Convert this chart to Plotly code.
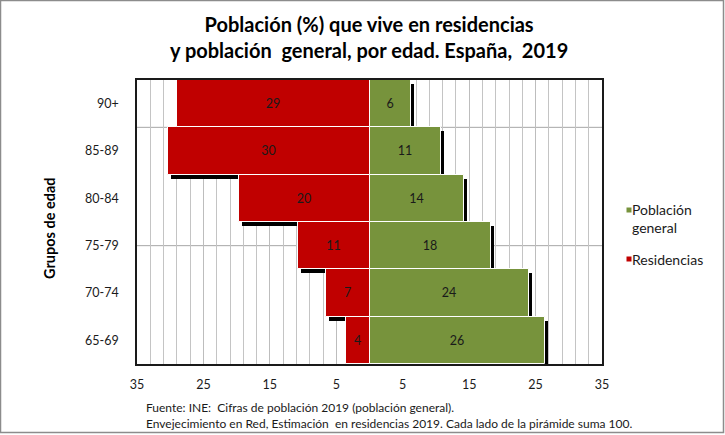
import plotly.graph_objects as go

# ---- data ----
age_groups = ["65-69", "70-74", "75-79", "80-84", "85-89", "90+"]
residencias = [3.6, 6.6, 10.8, 19.6, 30.4, 29.0]
poblacion_general = [26.4, 24.0, 18.3, 14.3, 10.8, 6.2]
x_tick_vals = [-35, -25, -15, -5, 5, 15, 25, 35]
x_tick_text = ["35", "25", "15", "5", "5", "15", "25", "35"]

RED = "#C00000"
GREEN = "#77933C"
FONT = "Lato"

W, H = 725, 435
ML, MR, MT, MB = 137, 123, 80, 71
PW, PH = W - ML - MR, H - MT - MB


def px(x):
    return (x - ML) / PW


def py(y):
    return (H - MB - y) / PH


ypos = list(range(len(age_groups)))
shadow_dx = 0.45
shadow_dy = 0.085

fig = go.Figure()
# shadows (drawn first, behind)
fig.add_trace(go.Bar(
    y=[v - shadow_dy for v in ypos], x=[-v for v in residencias], base=shadow_dx,
    orientation="h", width=1, marker=dict(color="#000000", line=dict(width=0)),
    showlegend=False, hoverinfo="skip"))
fig.add_trace(go.Bar(
    y=[v - shadow_dy for v in ypos], x=poblacion_general, base=shadow_dx,
    orientation="h", width=1, marker=dict(color="#000000", line=dict(width=0)),
    showlegend=False, hoverinfo="skip"))
# main bars
fig.add_trace(go.Bar(
    y=ypos, x=[-v for v in residencias], orientation="h", width=1,
    marker=dict(color=RED, line=dict(color="white", width=1)),
    text=[f"{round(v)}" for v in residencias], textposition="inside",
    insidetextanchor="middle", textangle=0,
    textfont=dict(family=FONT, size=12.5, color="#1a1a1a"),
    name="Residencias", showlegend=False))
fig.add_trace(go.Bar(
    y=ypos, x=poblacion_general, orientation="h", width=1,
    marker=dict(color=GREEN, line=dict(color="white", width=1)),
    text=[f"{round(v)}" for v in poblacion_general], textposition="inside",
    insidetextanchor="middle", textangle=0,
    textfont=dict(family=FONT, size=12.5, color="#1a1a1a"),
    name="Población general", showlegend=False))

shapes = [
    # horizontal gridlines
    dict(type="line", xref="paper", yref="y", x0=0, x1=1, y0=2.0, y1=2.0,
         line=dict(color="#a6a6a6", width=1), layer="below"),
    dict(type="line", xref="paper", yref="y", x0=0, x1=1, y0=4.5, y1=4.5,
         line=dict(color="#a6a6a6", width=1), layer="below"),
    # outer frame
    dict(type="rect", xref="paper", yref="paper",
         x0=px(0.5), x1=px(W - 1.5), y0=py(H - 2.5), y1=py(0.5),
         line=dict(color="#8c8c8c", width=1.5), layer="below"),
    # legend squares
    dict(type="rect", xref="paper", yref="paper",
         x0=px(626.5), x1=px(631.5), y0=py(212.5), y1=py(207.5),
         fillcolor=GREEN, line=dict(width=0)),
    dict(type="rect", xref="paper", yref="paper",
         x0=px(626.5), x1=px(631.5), y0=py(261.5), y1=py(256.5),
         fillcolor=RED, line=dict(width=0)),
]

annotations = [
    dict(text="<b>Población (%) que vive en residencias<br>y población  general, por edad. España,  2019</b>",
         x=px(369), y=py(37), xref="paper", yref="paper", xanchor="center", yanchor="middle",
         showarrow=False, font=dict(family=FONT, size=20, color="#000000")),
    dict(text="<b>Grupos de edad</b>", textangle=-90,
         x=px(49), y=py(228), xref="paper", yref="paper", xanchor="center", yanchor="middle",
         showarrow=False, font=dict(family=FONT, size=14.5, color="#000000")),
    dict(text="Población", x=px(630), y=py(209), xref="paper", yref="paper",
         xanchor="left", yanchor="middle", showarrow=False,
         font=dict(family=FONT, size=14, color="#1a1a1a")),
    dict(text="general", x=px(630), y=py(227), xref="paper", yref="paper",
         xanchor="left", yanchor="middle", showarrow=False,
         font=dict(family=FONT, size=14, color="#1a1a1a")),
    dict(text="Residencias", x=px(630), y=py(259), xref="paper", yref="paper",
         xanchor="left", yanchor="middle", showarrow=False,
         font=dict(family=FONT, size=14, color="#1a1a1a")),
    dict(text="Fuente: INE:  Cifras de población 2019 (población general).<br>"
              "Envejecimiento en Red, Estimación  en residencias 2019. Cada lado de la pirámide suma 100.",
         x=px(144), y=py(415), xref="paper", yref="paper", align="left",
         xanchor="left", yanchor="middle", showarrow=False,
         font=dict(family=FONT, size=12, color="#1a1a1a")),
]

fig.update_layout(
    width=W, height=H,
    margin=dict(l=ML, r=MR, t=MT, b=MB, pad=0),
    barmode="overlay", bargap=0,
    plot_bgcolor="white", paper_bgcolor="white",
    showlegend=False,
    shapes=shapes, annotations=annotations,
    font=dict(family=FONT, size=12, color="#1a1a1a"),
    uniformtext=dict(mode=False),
)
fig.update_xaxes(
    range=[-35, 35], tickvals=x_tick_vals, ticktext=x_tick_text,
    showgrid=True, gridcolor="#bdbdbd", gridwidth=1,
    minor=dict(tick0=1, dtick=2, showgrid=True, gridcolor="#c4c4c4", gridwidth=1),
    zeroline=False, showline=True, mirror=True, linecolor="#1a1a1a", linewidth=1.5,
    ticks="", ticklabelstandoff=8,
    tickfont=dict(family=FONT, size=12.5, color="#1a1a1a"), fixedrange=True,
)
fig.update_yaxes(
    range=[-0.5, 5.5], tickvals=ypos, ticktext=age_groups,
    showgrid=False, zeroline=False, showline=True, mirror=True,
    linecolor="#1a1a1a", linewidth=1.5,
    ticks="", ticklabelstandoff=14,
    tickfont=dict(family=FONT, size=12.5, color="#1a1a1a"), fixedrange=True,
)

fig.write_html("out.html")
